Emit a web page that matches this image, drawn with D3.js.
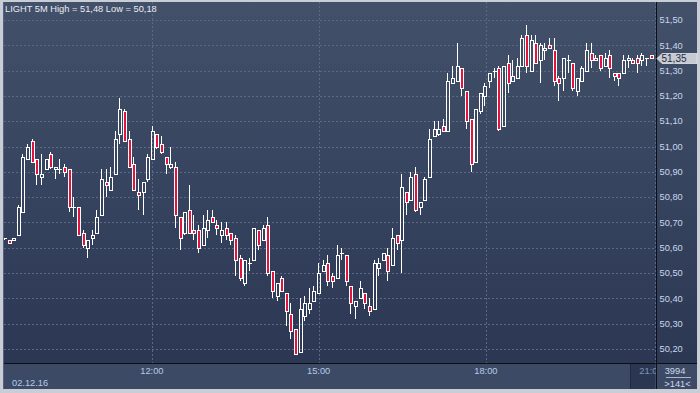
<!DOCTYPE html>
<html>
<head>
<meta charset="utf-8">
<title>LIGHT 5M</title>
<script src="https://cdn.jsdelivr.net/npm/d3@7"></script>
<style>
  html, body { margin: 0; padding: 0; background: #c9ced6; }
  svg { display: block; }
  text { font-family: "Liberation Sans", Arial, sans-serif; font-size: 9.3px; }
</style>
</head>
<body>
<script>
// 5-minute candles, 02.12.16
const opens = [
  50.64, 50.63, 50.63, 50.65, 50.74, 50.95, 51.02, 50.95, 50.88, 50.91,
  50.97, 50.91, 50.91, 50.92, 50.91, 50.76, 50.76, 50.66, 50.60, 50.64,
  50.66, 50.73, 50.86, 50.83, 50.89, 51.05, 51.14, 51.03, 50.93, 50.82,
  50.82, 50.87, 50.95, 51.05, 51.01, 50.96, 50.92, 50.92, 50.72, 50.66,
  50.75, 50.67, 50.67, 50.61, 50.67, 50.72, 50.69, 50.65, 50.68, 50.66,
  50.64, 50.56, 50.46, 50.54, 50.55, 50.67, 50.63, 50.69, 50.51, 50.41,
  50.48, 50.42, 50.34, 50.28, 50.19, 50.33, 50.36, 50.39, 50.42, 50.51,
  50.54, 50.49, 50.48, 50.58, 50.57, 50.45, 50.37, 50.40, 50.42, 50.37,
  50.36, 50.52, 50.55, 50.57, 50.53, 50.65, 50.63, 50.82, 50.79, 50.89,
  50.76, 50.79, 50.88, 51.04, 51.05, 51.08, 51.06, 51.25, 51.26, 51.31,
  51.22, 51.11, 50.94, 51.14, 51.20, 51.26, 51.30, 51.31, 51.08, 51.33,
  51.26, 51.27, 51.32, 51.44, 51.30, 51.41, 51.34, 51.38, 51.40, 51.38,
  51.27, 51.27, 51.34, 51.33, 51.22, 51.26, 51.30, 51.37, 51.35, 51.36,
  51.32, 51.36, 51.29, 51.29, 51.29, 51.34, 51.34, 51.35, 51.34, 51.35,
  51.36
];
const highs = [
  50.64, 50.63, 50.64, 50.77, 50.97, 51.01, 51.03, 50.95, 50.97, 50.95,
  50.98, 50.92, 50.95, 50.93, 50.91, 50.80, 50.76, 50.67, 50.63, 50.67,
  50.75, 50.91, 50.91, 50.92, 51.06, 51.19, 51.15, 51.06, 50.96, 50.87,
  50.86, 50.97, 51.08, 51.05, 51.04, 50.96, 51.00, 50.94, 50.72, 50.74,
  50.85, 50.73, 50.69, 50.73, 50.75, 50.75, 50.71, 50.70, 50.70, 50.66,
  50.65, 50.57, 50.55, 50.56, 50.68, 50.67, 50.69, 50.72, 50.51, 50.46,
  50.49, 50.42, 50.38, 50.28, 50.40, 50.41, 50.44, 50.45, 50.54, 50.55,
  50.57, 50.50, 50.61, 50.60, 50.57, 50.45, 50.39, 50.47, 50.42, 50.40,
  50.55, 50.56, 50.58, 50.60, 50.68, 50.65, 50.89, 50.82, 50.90, 50.92,
  50.78, 50.88, 51.07, 51.10, 51.10, 51.11, 51.29, 51.32, 51.41, 51.31,
  51.22, 51.11, 51.15, 51.21, 51.25, 51.29, 51.31, 51.32, 51.32, 51.36,
  51.34, 51.35, 51.44, 51.48, 51.44, 51.44, 51.41, 51.41, 51.43, 51.43,
  51.28, 51.35, 51.36, 51.33, 51.27, 51.32, 51.41, 51.41, 51.36, 51.36,
  51.37, 51.38, 51.29, 51.29, 51.36, 51.36, 51.35, 51.36, 51.37, 51.35,
  51.36
];
const lows = [
  50.63, 50.62, 50.63, 50.65, 50.74, 50.95, 50.94, 50.85, 50.85, 50.91,
  50.91, 50.87, 50.89, 50.88, 50.74, 50.72, 50.65, 50.60, 50.56, 50.61,
  50.66, 50.73, 50.80, 50.83, 50.89, 51.01, 51.02, 50.92, 50.83, 50.75,
  50.73, 50.86, 50.95, 50.99, 50.97, 50.89, 50.91, 50.68, 50.59, 50.65,
  50.66, 50.63, 50.58, 50.61, 50.64, 50.70, 50.65, 50.62, 50.63, 50.61,
  50.49, 50.47, 50.45, 50.51, 50.55, 50.59, 50.63, 50.49, 50.40, 50.39,
  50.43, 50.29, 50.24, 50.18, 50.19, 50.31, 50.34, 50.39, 50.42, 50.51,
  50.45, 50.44, 50.48, 50.55, 50.45, 50.34, 50.32, 50.40, 50.36, 50.33,
  50.36, 50.49, 50.55, 50.47, 50.53, 50.59, 50.50, 50.73, 50.79, 50.74,
  50.73, 50.79, 50.88, 51.04, 51.04, 51.06, 51.06, 51.25, 51.26, 51.20,
  51.07, 50.90, 50.94, 51.13, 51.16, 51.23, 51.27, 51.06, 51.08, 51.21,
  51.26, 51.27, 51.32, 51.29, 51.30, 51.33, 51.25, 51.34, 51.39, 51.24,
  51.18, 51.22, 51.29, 51.22, 51.20, 51.26, 51.30, 51.31, 51.34, 51.30,
  51.32, 51.27, 51.26, 51.24, 51.29, 51.31, 51.33, 51.29, 51.32, 51.32,
  51.35
];
const closes = [
  50.64, 50.62, 50.64, 50.76, 50.96, 51.00, 50.94, 50.89, 50.89, 50.95,
  50.92, 50.92, 50.91, 50.90, 50.76, 50.76, 50.65, 50.61, 50.63, 50.65,
  50.72, 50.87, 50.85, 50.88, 51.03, 51.15, 51.02, 50.92, 50.83, 50.81,
  50.86, 50.96, 51.06, 51.00, 50.98, 50.93, 50.93, 50.73, 50.64, 50.74,
  50.66, 50.66, 50.60, 50.68, 50.71, 50.70, 50.68, 50.67, 50.65, 50.63,
  50.55, 50.48, 50.55, 50.54, 50.68, 50.61, 50.68, 50.50, 50.43, 50.46,
  50.43, 50.35, 50.27, 50.18, 50.36, 50.38, 50.38, 50.43, 50.50, 50.53,
  50.47, 50.47, 50.57, 50.58, 50.47, 50.38, 50.39, 50.44, 50.38, 50.35,
  50.54, 50.54, 50.58, 50.51, 50.64, 50.62, 50.84, 50.78, 50.88, 50.75,
  50.78, 50.87, 51.03, 51.07, 51.07, 51.06, 51.26, 51.27, 51.32, 51.23,
  51.10, 50.93, 51.15, 51.21, 51.24, 51.29, 51.30, 51.07, 51.32, 51.25,
  51.28, 51.32, 51.43, 51.32, 51.42, 51.33, 51.40, 51.39, 51.39, 51.26,
  51.25, 51.35, 51.34, 51.23, 51.27, 51.31, 51.38, 51.34, 51.34, 51.31,
  51.35, 51.31, 51.28, 51.27, 51.34, 51.35, 51.33, 51.33, 51.36, 51.35,
  51.35
];

// price axis ticks
const priceTicks = [50.20, 50.30, 50.40, 50.50, 50.60, 50.70, 50.80, 50.90,
                    51.00, 51.10, 51.20, 51.30, 51.40, 51.50];
// time axis: label and the bar position (bar index) where it falls
const timeLabels = ["12:00", "15:00", "18:00", "21:00"];
const timeAtBar = [31.8, 67.9, 104.1, 140.7];
const dateLabel = "02.12.16";
const barCount = 3994;
const visibleBars = opens.length;

const width = 700, height = 393;
const plot = { left: 3, right: 656, top: 2, bottom: 363 };

const fmt = v => d3.format(".2f")(v).replace(".", ",");

const x = d3.scaleLinear().domain([0, opens.length - 1]).range([5, 651.7]);
const y = d3.scaleLinear().domain([50.20, 51.50]).range([349, 20]);

const svg = d3.select("body").append("svg")
    .attr("width", width)
    .attr("height", height);

const defs = svg.append("defs");
const grad = defs.append("linearGradient")
    .attr("id", "bg")
    .attr("x1", 0).attr("y1", 0).attr("x2", 0).attr("y2", 1);
grad.append("stop").attr("offset", "0%").attr("stop-color", "#435069");
grad.append("stop").attr("offset", "50%").attr("stop-color", "#37445f");
grad.append("stop").attr("offset", "100%").attr("stop-color", "#2c3853");

defs.append("clipPath").attr("id", "plotClip")
  .append("rect")
    .attr("x", plot.left + 1).attr("y", plot.top)
    .attr("width", plot.right - plot.left - 1)
    .attr("height", plot.bottom - plot.top);

defs.append("clipPath").attr("id", "axisClip")
  .append("rect")
    .attr("x", plot.left).attr("y", plot.bottom)
    .attr("width", plot.right - plot.left).attr("height", 30);

// outer frame
svg.append("rect")
    .attr("width", width).attr("height", height)
    .attr("fill", "#c9ced6");

// plot + price axis background
svg.append("rect")
    .attr("x", plot.left).attr("y", plot.top)
    .attr("width", 697 - plot.left).attr("height", plot.bottom - plot.top)
    .attr("fill", "url(#bg)");

// time axis strip
svg.append("rect")
    .attr("x", plot.left).attr("y", plot.bottom)
    .attr("width", 697 - plot.left).attr("height", 389 - plot.bottom)
    .attr("fill", "#3d4a65");

// grid
const grid = svg.append("g")
    .attr("stroke", "#5b6886")
    .attr("stroke-width", 1)
    .attr("stroke-dasharray", "2,2");

grid.selectAll(".hgrid")
  .data(priceTicks)
  .enter().append("line")
    .attr("x1", plot.left + 1).attr("x2", plot.right)
    .attr("y1", d => Math.round(y(d)) + 0.5)
    .attr("y2", d => Math.round(y(d)) + 0.5);

grid.selectAll(".vgrid")
  .data(timeAtBar)
  .enter().append("line")
    .attr("x1", d => Math.round(x(d)) + 0.5)
    .attr("x2", d => Math.round(x(d)) + 0.5)
    .attr("y1", plot.top)
    .attr("y2", plot.bottom);

// candles
const candles = d3.range(opens.length).map(i => ({
  i, o: opens[i], h: highs[i], l: lows[i], c: closes[i]
}));

const cg = svg.append("g").attr("clip-path", "url(#plotClip)");

const candle = cg.selectAll(".candle")
  .data(candles)
  .enter().append("g");

candle.each(function (d) {
  const g = d3.select(this);
  const cx = Math.round(x(d.i));
  const top = Math.round(y(Math.max(d.o, d.c)));
  const bot = Math.round(y(Math.min(d.o, d.c)));
  const hi = Math.round(y(d.h));
  const lo = Math.round(y(d.l));
  const wx = cx - 0.5;

  if (hi < top) {
    g.append("line")
      .attr("x1", wx).attr("x2", wx)
      .attr("y1", hi).attr("y2", top)
      .attr("stroke", "#ffffff");
  }
  if (lo > bot) {
    g.append("line")
      .attr("x1", wx).attr("x2", wx)
      .attr("y1", bot).attr("y2", lo)
      .attr("stroke", "#ffffff");
  }
  if (bot - top < 1) {
    g.append("line")
      .attr("x1", cx - 2).attr("x2", cx + 2)
      .attr("y1", top + 0.5).attr("y2", top + 0.5)
      .attr("stroke", "#ffffff");
  } else {
    g.append("rect")
      .attr("x", cx - 1.5)
      .attr("y", top + 0.5)
      .attr("width", 3)
      .attr("height", bot - top)
      .attr("fill", d.c < d.o ? "#e0143c" : "none")
      .attr("stroke", "#ffffff")
      .attr("stroke-width", 1);
  }
});

// separators
svg.append("line")
    .attr("x1", plot.left).attr("x2", 697)
    .attr("y1", plot.bottom + 0.5).attr("y2", plot.bottom + 0.5)
    .attr("stroke", "#0c0f16");
svg.append("line")
    .attr("x1", plot.right + 0.5).attr("x2", plot.right + 0.5)
    .attr("y1", plot.top).attr("y2", 389)
    .attr("stroke", "#0c0f16");
svg.append("line")
    .attr("x1", plot.left + 0.5).attr("x2", plot.left + 0.5)
    .attr("y1", plot.top).attr("y2", 389)
    .attr("stroke", "#56617a");

// title
svg.append("text")
    .attr("x", 5).attr("y", 12)
    .attr("fill", "#e8edf5")
    .text(`LIGHT 5M High = ${fmt(d3.max(highs))} Low = ${fmt(d3.min(lows))}`);

// price labels
svg.append("g").selectAll("text")
  .data(priceTicks)
  .enter().append("text")
    .attr("x", 659.5)
    .attr("y", d => y(d))
    .attr("dy", "0.35em")
    .attr("fill", "#c9d6ec")
    .text(d => fmt(d));

// last price marker
const last = closes[closes.length - 1];
const ly = Math.round(y(last)) + 0.5;
svg.append("path")
    .attr("d", `M657,${ly} L662,${ly - 5} L697,${ly - 5} L697,${ly + 5} L662,${ly + 5} Z`)
    .attr("fill", "#c6cad1")
    .attr("stroke", "#e2e5ea")
    .attr("stroke-width", 0.8);
svg.append("text")
    .attr("x", 661.5).attr("y", ly)
    .attr("dy", "0.35em")
    .attr("fill", "#1f2b44")
    .style("font-size", "10px")
    .text(fmt(last));

// time axis
const axisG = svg.append("g").attr("clip-path", "url(#axisClip)");
const lastIdx = timeLabels.length - 1;

axisG.append("rect")
    .attr("x", Math.round(x(timeAtBar[lastIdx])) - 24)
    .attr("y", plot.bottom + 1)
    .attr("width", 24).attr("height", 389 - plot.bottom - 1)
    .attr("fill", "#2b3752");
axisG.append("line")
    .attr("x1", Math.round(x(timeAtBar[lastIdx])) - 24.5)
    .attr("x2", Math.round(x(timeAtBar[lastIdx])) - 24.5)
    .attr("y1", plot.bottom + 1).attr("y2", 389)
    .attr("stroke", "#222b3e");

axisG.selectAll(".tlabel")
  .data(timeLabels)
  .enter().append("text")
    .attr("x", (d, i) => x(timeAtBar[i]) - (i === lastIdx ? 4 : 0))
    .attr("y", 371)
    .attr("dy", "0.35em")
    .attr("text-anchor", "middle")
    .attr("fill", (d, i) => i === lastIdx ? "#7f93b5" : "#b4cae9")
    .text(d => d);

svg.append("text")
    .attr("x", 12).attr("y", 383)
    .attr("dy", "0.35em")
    .attr("fill", "#b4cae9")
    .text(dateLabel);

// bar counters bottom right
svg.append("text")
    .attr("x", 675).attr("y", 371)
    .attr("dy", "0.35em")
    .attr("text-anchor", "middle")
    .attr("fill", "#cfd9ea")
    .text(barCount);
svg.append("line")
    .attr("x1", 666).attr("x2", 691)
    .attr("y1", 377.5).attr("y2", 377.5)
    .attr("stroke", "#aab6cc");
svg.append("text")
    .attr("x", 677.5).attr("y", 384)
    .attr("dy", "0.35em")
    .attr("text-anchor", "middle")
    .attr("fill", "#cfd9ea")
    .text(`>${visibleBars}<`);
</script>
</body>
</html>
